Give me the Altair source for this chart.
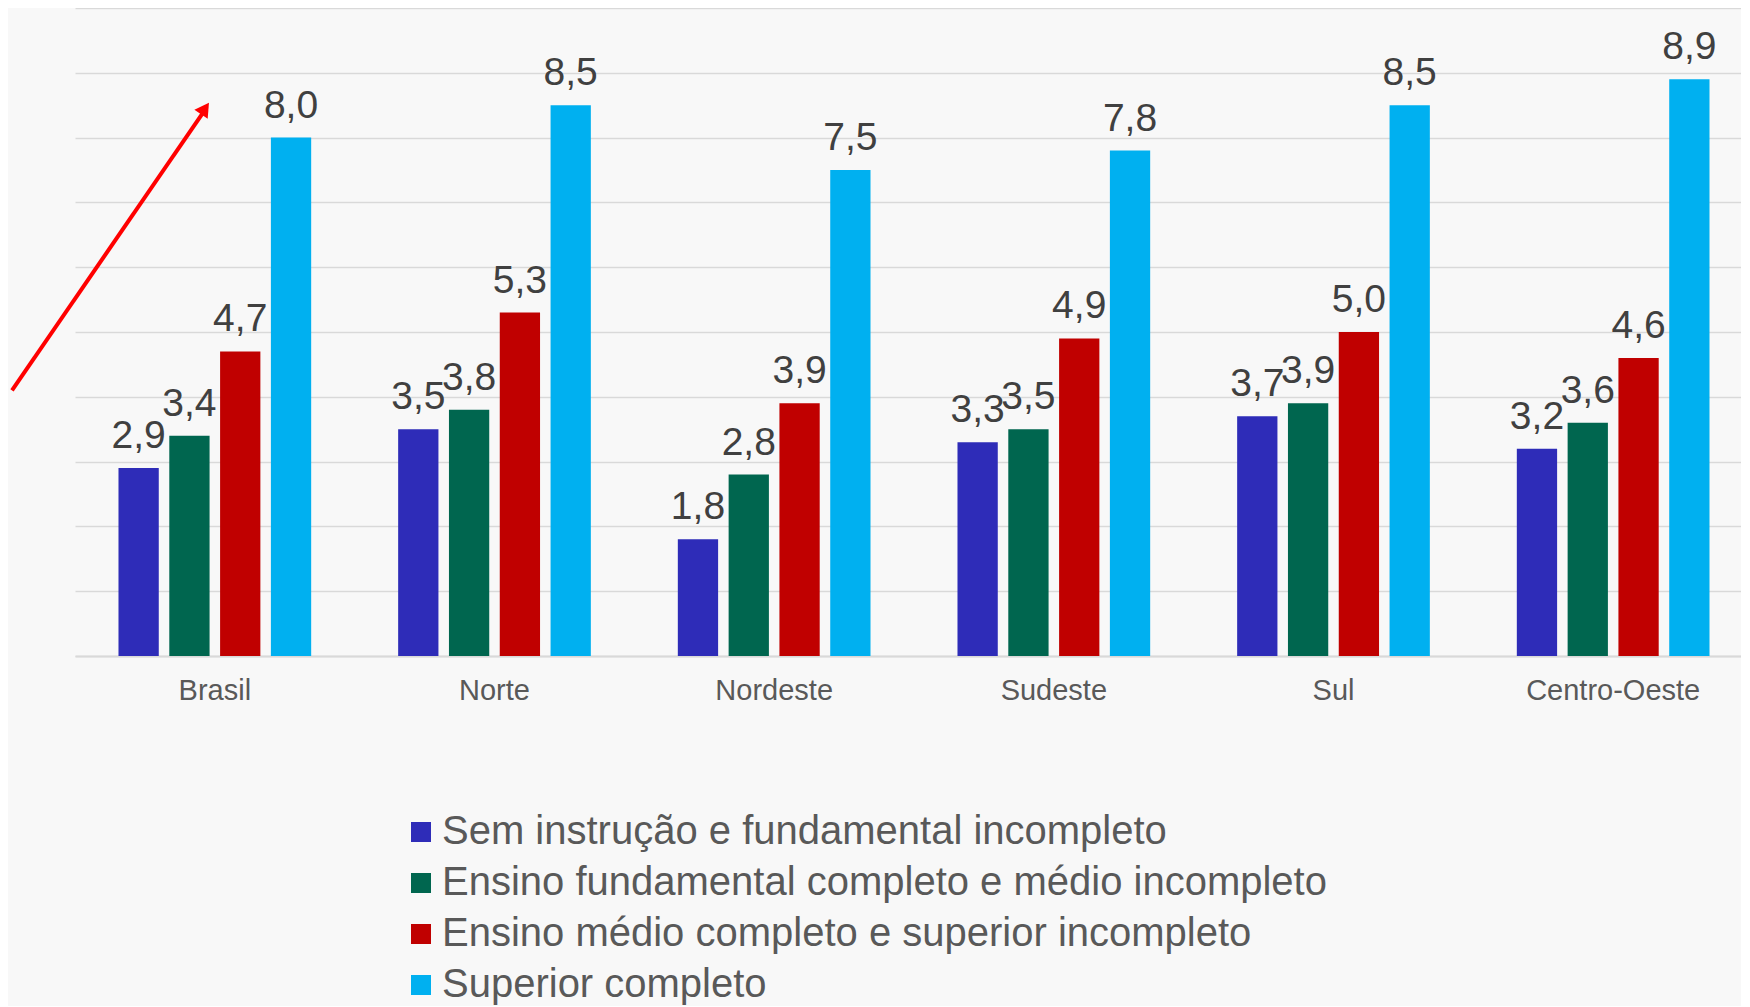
import altair as alt
import pandas as pd

regions = ["Brasil", "Norte", "Nordeste", "Sudeste", "Sul", "Centro-Oeste"]
series = [
    "Sem instrução e fundamental incompleto",
    "Ensino fundamental completo e médio incompleto",
    "Ensino médio completo e superior incompleto",
    "Superior completo",
]
sem_instrucao = [2.9, 3.5, 1.8, 3.3, 3.7, 3.2]
fundamental = [3.4, 3.8, 2.8, 3.5, 3.9, 3.6]
medio = [4.7, 5.3, 3.9, 4.9, 5.0, 4.6]
superior = [8.0, 8.5, 7.5, 7.8, 8.5, 8.9]
colors = ["#2E2CB8", "#00664F", "#C00000", "#00B0F0"]

# annotation arrow (y in data units)
arrow_y = [4.1, 8.45]

rows = []
for s, vals in zip(series, [sem_instrucao, fundamental, medio, superior]):
    for r, v in zip(regions, vals):
        rows.append({"region": r, "series": s, "value": v,
                     "label": f"{v:.1f}".replace(".", ",")})
df = pd.DataFrame(rows)

FONT = "Liberation Sans"

x_enc = alt.X("region:N", sort=regions, title=None,
              scale=alt.Scale(paddingInner=0.311, paddingOuter=0.1555, range=[0, 1678]),
              axis=alt.Axis(labelFontSize=29, labelColor="#595959", labelFont=FONT,
                            labelPadding=20, ticks=False, domainColor="#D9D9D9",
                            domainWidth=2, labelAngle=0))
xo_enc = alt.XOffset("series:N", sort=series,
                     scale=alt.Scale(paddingInner=0.207, paddingOuter=0))
y_enc = alt.Y("value:Q", title=None,
              scale=alt.Scale(domain=[0, 10], nice=False),
              axis=alt.Axis(values=list(range(11)), labels=False, ticks=False,
                            domain=False, gridColor="#D9D9D9", gridWidth=1.5))

base = alt.Chart(df).encode(x=x_enc, xOffset=xo_enc, y=y_enc)

bars = base.mark_bar().encode(
    color=alt.Color("series:N", sort=series,
                    scale=alt.Scale(domain=series, range=colors),
                    legend=alt.Legend(title=None, orient="none", legendX=326, legendY=804,
                                      direction="vertical", symbolType="square",
                                      symbolSize=400, symbolStrokeWidth=0,
                                      labelFontSize=40, labelColor="#595959",
                                      labelFont=FONT, labelLimit=0, labelOffset=1,
                                      rowPadding=11, padding=0))
)

texts = base.mark_text(baseline="alphabetic", dy=-20, fontSize=39,
                       color="#404040", font=FONT).encode(text="label:N")

arrow_df = pd.DataFrame({"y1": [arrow_y[0]], "y2": [arrow_y[1]]})
arrow_line = alt.Chart(arrow_df).mark_rule(color="#FF0000", strokeWidth=4).encode(
    x=alt.value(-63), x2=alt.value(131), y="y1:Q", y2="y2:Q")
arrow_head = alt.Chart(arrow_df).mark_point(
    shape="triangle-up", filled=True, color="#FF0000", size=260, angle=34.5, opacity=1
).encode(x=alt.value(130), y="y2:Q")

chart = alt.layer(bars, texts, arrow_line, arrow_head).properties(
    width=1666, height=648,
    autosize=alt.AutoSizeParams(type="none"),
    padding={"left": 67, "top": 0, "right": 0, "bottom": 350},
    background="#F8F8F8",
).configure_view(stroke=None)

chart.save("out.html", embed_options={"renderer": "svg", "actions": False})
